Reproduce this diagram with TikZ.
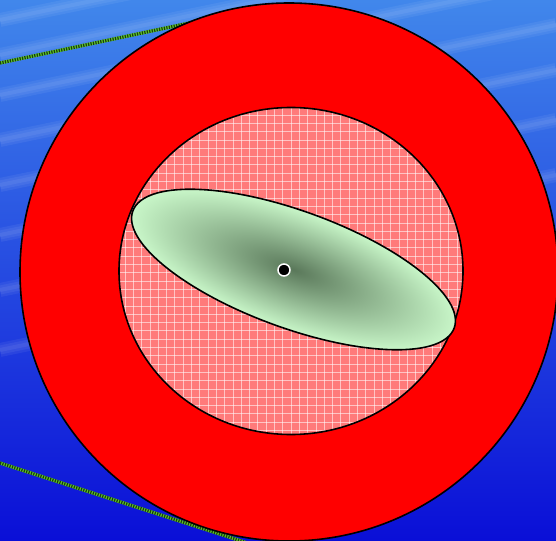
\documentclass[tikz,border=0pt]{standalone}
\usetikzlibrary{calc}

\definecolor{skytop}{RGB}{65,135,235}
\definecolor{skymid}{RGB}{35,80,225}
\definecolor{skybot}{RGB}{10,15,215}
\definecolor{gridpink}{RGB}{255,122,122}
\definecolor{lensdark}{RGB}{90,120,90}
\definecolor{lenslight}{RGB}{200,246,200}
\definecolor{wirelight}{RGB}{95,200,40}
\definecolor{wiredark}{RGB}{25,60,15}

\begin{document}
\begin{tikzpicture}[x=1pt, y=-1pt,
  rim/.style={draw=black, line width=1.6pt},
  wire/.style={draw=wirelight, line width=3.2pt,
    postaction={draw=wiredark, line width=3.2pt, dash pattern=on 1.2pt off 1.3pt}},
  streak/.style={white, opacity=0.06}]
	\useasboundingbox (0,0) rectangle (556,540);
	% sky
	\shade[top color=skytop, middle color=skymid, bottom color=skybot] (0,0) rectangle (556,540);
	\foreach \y in {20, 55, 95, 140, 185, 235, 290, 350}
		\foreach \w in {14pt, 9pt, 4pt}
			\draw[streak, line width=\w] (0,\y) -- (556,\y-115);
	% the two wires behind the ring
	\coordinate (wa) at (0,63);
	\coordinate (wb) at (270,6);
	\coordinate (wc) at (0,463);
	\coordinate (wd) at (300,560);
	\draw[wire] (wa) -- (wb);
	\draw[wire] (wc) -- (wd);
	% outer ring
	\coordinate (ring) at (289,272);
	\draw[rim, fill=red] (ring) circle[radius=269];
	% gridded disc
	\coordinate (disc) at (291,271);
	\begin{scope}
		\clip (disc) ellipse[x radius=172, y radius=163.5];
		\fill[gridpink] (100,90) rectangle (480,450);
		\foreach \i in {0,...,46} {
			\draw[white, opacity=0.55, line width=0.45pt] (100+8.3*\i,90) -- (100+8.3*\i,450);
			\draw[white, opacity=0.55, line width=0.45pt] (100,90+8.3*\i) -- (480,90+8.3*\i);
		}
	\end{scope}
	\draw[rim] (disc) ellipse[x radius=172, y radius=163.5];
	% shaded lens
	\begin{scope}[transform canvas={shift={(293.5,269.5)}, rotate=-20}]
		\shade[inner color=lensdark, outer color=lenslight, rim] (0,0) ellipse[x radius=171, y radius=58.5];
	\end{scope}
	% centre point
	\node[circle, fill=black, draw=white, line width=1.5pt, minimum size=12pt, inner sep=0pt] (pivot) at (284,270) {};
\end{tikzpicture}
\end{document}
